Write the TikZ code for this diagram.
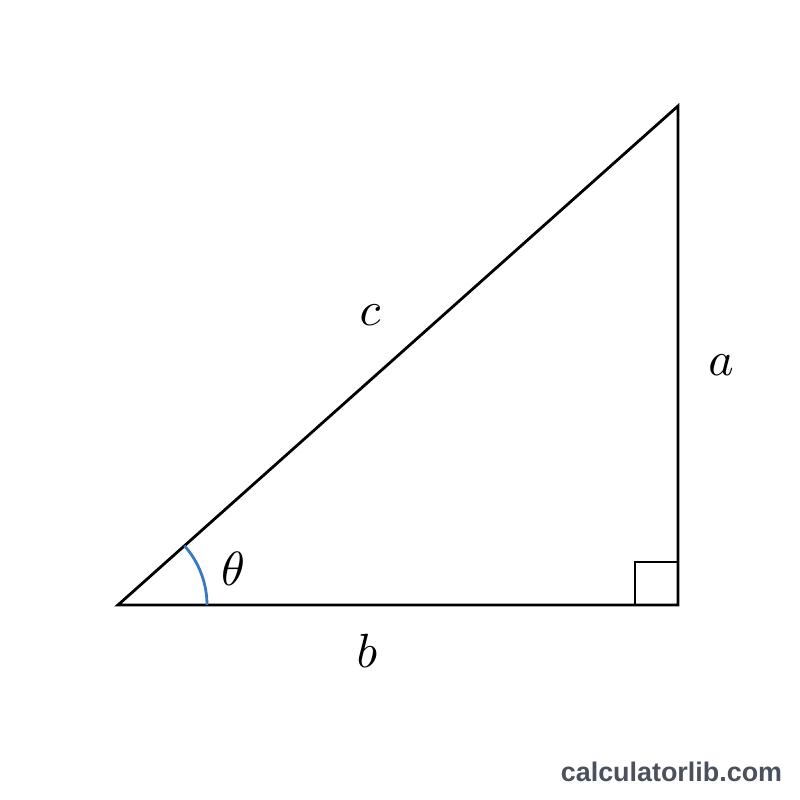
\documentclass[tikz,border=0pt]{standalone}
\usepackage{fontspec}
\newfontfamily\wmfont{Liberation Sans}
\usetikzlibrary{calc}
\definecolor{arcblue}{HTML}{3A78C2}
\definecolor{wmgray}{HTML}{4A505C}
\newcommand{\biglbl}[1]{\scalebox{4.8}{$#1$}}
\begin{document}
\begin{tikzpicture}[x=1pt,y=1pt,
  edge/.style={line width=2.8pt,line join=miter,black},
  lbl/.style={inner sep=0pt},
  wm/.style={inner sep=0pt,anchor=base,text=wmgray,font=\wmfont\bfseries\fontsize{26.9}{30}\selectfont}]
\useasboundingbox (0,0) rectangle (800,800);
\fill[white] (0,0) rectangle (800,800);
\coordinate (A) at (118,195);
\coordinate (B) at (678,195);
\coordinate (C) at (678,694);
\draw[edge] (A) -- (B) -- (C) -- cycle;
\draw[edge,line width=2.4pt] ($(B)+(-43,0)$) -- ++(0,43) -- ++(43,0);
\draw[arcblue,line width=2.8pt] ($(A)+(89,0)$) arc[start angle=0,end angle=41.7,radius=89];
\node[lbl] (lc) at (370,485) {\biglbl{c}};
\node[lbl] (la) at (721,435) {\biglbl{a}};
\node[lbl] (lb) at (367,149) {\biglbl{b}};
\node[lbl] (lt) at (233,231) {\biglbl{\theta}};
\node[wm] (wm) at (671.5,18) {calculatorlib.com};
\end{tikzpicture}
\end{document}
